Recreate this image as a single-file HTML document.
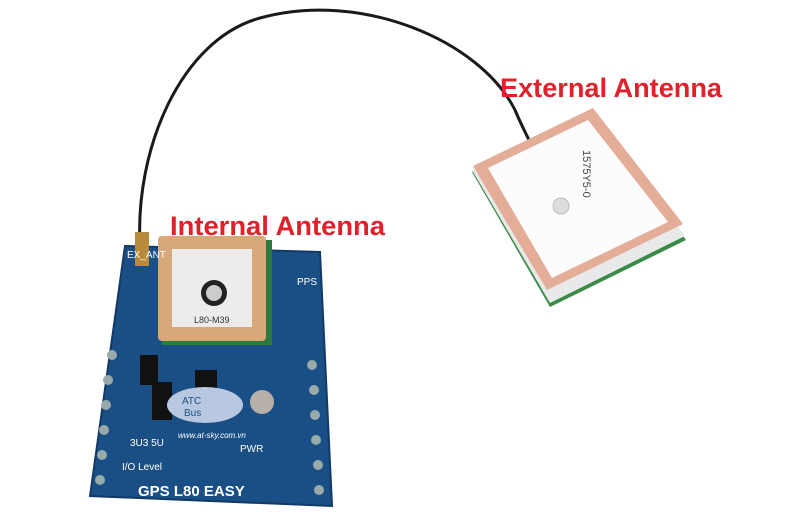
<!DOCTYPE html>
<html><head><style>html,body{margin:0;padding:0;background:#fff;width:800px;height:524px;overflow:hidden}</style></head>
<body>
<svg width="800" height="524" viewBox="0 0 800 524" xmlns="http://www.w3.org/2000/svg" font-family="Liberation Sans, sans-serif">
<rect width="800" height="524" fill="#fff"/>
<!-- cable -->
<path d="M140,245 C135,150 180,40 260,18 C360,-10 480,40 515,110 C520,122 525,132 530,142" fill="none" stroke="#1a1a1a" stroke-width="3"/>
<!-- external antenna -->
<polygon points="472,172 593,114 686,240 550,307" fill="#3a8a48"/>
<polygon points="472,170 593,112 685,236 550,303" fill="#e9e9e9"/>
<polygon points="473,166 593,108 683,224 547,290" fill="#e3ad98"/>
<polygon points="488,168 588,120 668,222 552,278" fill="#fcfcfc"/>
<circle cx="561" cy="206" r="8" fill="#ddd" stroke="#bbb"/>
<text x="583" y="150" font-size="11" fill="#444" transform="rotate(90 583 150)">1575Y5-0</text>
<!-- board -->
<polygon points="125,246 320,252 332,506 90,496" fill="#1a4f86"/>
<polygon points="125,246 320,252 332,506 90,496" fill="none" stroke="#123a66" stroke-width="2"/>
<!-- connector -->
<rect x="135" y="232" width="14" height="34" fill="#b88a3a"/>
<!-- internal antenna -->
<rect x="162" y="240" width="110" height="105" fill="#2c7a3e"/>
<rect x="158" y="236" width="108" height="105" rx="4" fill="#d8a878"/>
<rect x="172" y="249" width="80" height="78" fill="#ececec"/>
<circle cx="214" cy="293" r="13" fill="#222"/>
<circle cx="214" cy="293" r="8" fill="#ccc"/>
<text x="194" y="323" font-size="9" fill="#333">L80-M39</text>
<!-- pins -->
<g fill="#9aa">
<circle cx="112" cy="355" r="5"/><circle cx="108" cy="380" r="5"/><circle cx="106" cy="405" r="5"/><circle cx="104" cy="430" r="5"/><circle cx="102" cy="455" r="5"/><circle cx="100" cy="480" r="5"/>
<circle cx="312" cy="365" r="5"/><circle cx="314" cy="390" r="5"/><circle cx="315" cy="415" r="5"/><circle cx="316" cy="440" r="5"/><circle cx="318" cy="465" r="5"/><circle cx="319" cy="490" r="5"/>
</g>
<rect x="140" y="355" width="18" height="30" fill="#111"/>
<rect x="152" y="382" width="20" height="38" fill="#111"/>
<rect x="195" y="370" width="22" height="18" fill="#111"/>
<ellipse cx="205" cy="405" rx="38" ry="18" fill="#b8c8e0"/>
<text x="182" y="404" font-size="10" fill="#1a4f86">ATC</text>
<text x="184" y="416" font-size="10" fill="#1a4f86">Bus</text>
<circle cx="262" cy="402" r="12" fill="#b8b0a8"/>
<text x="178" y="438" font-size="8" fill="#fff" font-style="italic">www.at-sky.com.vn</text>
<text x="130" y="446" font-size="10" fill="#fff">3U3 5U</text>
<text x="122" y="470" font-size="10" fill="#fff">I/O Level</text>
<text x="240" y="452" font-size="10" fill="#fff">PWR</text>
<text x="127" y="258" font-size="10" fill="#fff">EX_ANT</text>
<text x="297" y="285" font-size="10" fill="#fff">PPS</text>
<text x="138" y="496" font-size="15" font-weight="bold" fill="#fff">GPS L80 EASY</text>
<!-- labels -->
<text x="500" y="97" font-size="27" font-weight="bold" fill="#e0202a" textLength="222" lengthAdjust="spacingAndGlyphs">External Antenna</text>
<text x="170" y="235" font-size="27" font-weight="bold" fill="#e0202a" textLength="215" lengthAdjust="spacingAndGlyphs">Internal Antenna</text>
</svg>
</body></html>
